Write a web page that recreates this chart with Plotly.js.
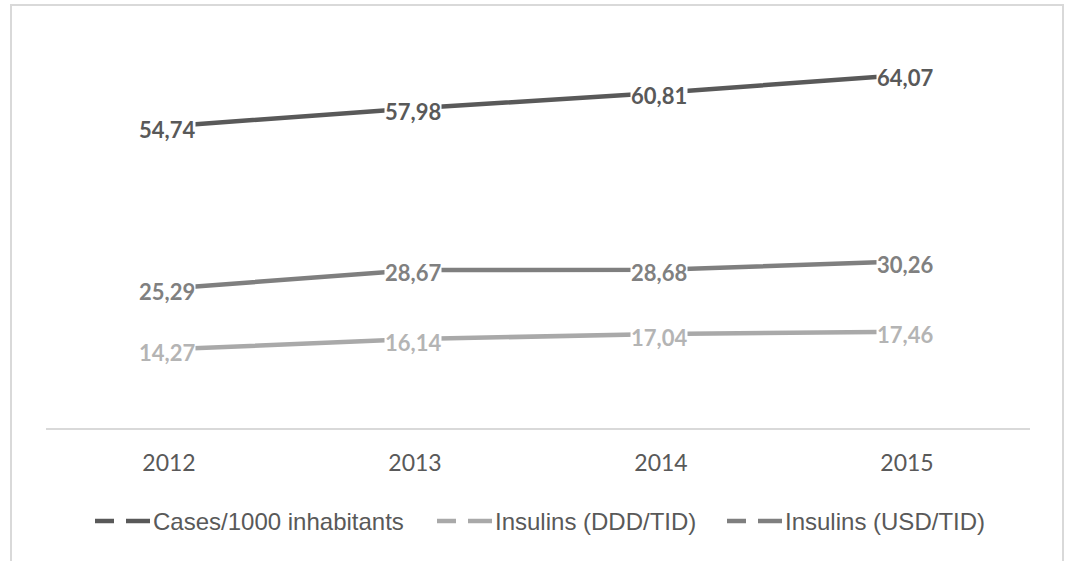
<!DOCTYPE html>
<html>
<head>
<meta charset="utf-8">
<script src="https://cdn.plot.ly/plotly-3.0.1.min.js"></script>
<style>
  html, body { margin: 0; padding: 0; background: #fff; overflow: hidden; }
  #chart { width: 1065px; height: 561px; }
</style>
</head>
<body>
<div id="chart"></div>
<script>
// Yearly series
const years = ['2012', '2013', '2014', '2015'];
const casesPer1000 = [54.74, 57.98, 60.81, 64.07];
const insulinsDDD = [14.27, 16.14, 17.04, 17.46];
const insulinsUSD = [25.29, 28.67, 28.68, 30.26];
const seriesNames = ['Cases/1000 inhabitants', 'Insulins (DDD/TID)', 'Insulins (USD/TID)'];

// Styling
const lineColors = ['#595959', '#a9a9a9', '#7f7f7f'];
const labelColors = ['#595959', '#b4b4b4', '#808080'];
const W = 1065, H = 561;
const PL = 46, PR = 1030, PT = 42, PB = 428;

const px2x = px => (px - PL) / (PR - PL);
const py2y = py => (PB - py) / (PB - PT);

const seriesValues = [casesPer1000, insulinsDDD, insulinsUSD];

const traces = seriesValues.map((vals, i) => ({
  type: 'scatter',
  mode: 'lines',
  name: seriesNames[i],
  x: years,
  y: vals,
  line: { color: lineColors[i], width: 4.5 },
  hoverinfo: 'skip',
  showlegend: false
}));

const fmt = v => v.toFixed(2).replace('.', ',');

// value labels sitting on each point, masking the line behind them
const annotations = [];
seriesValues.forEach((vals, i) => {
  vals.forEach((v, j) => {
    annotations.push({
      x: j, y: v, xref: 'x', yref: 'y',
      text: fmt(v), showarrow: false,
      xanchor: 'center', yanchor: 'middle', yshift: -3, xshift: -2,
      bgcolor: '#ffffff', borderpad: 0,
      font: { family: 'Lato, "Open Sans", sans-serif', size: 22, color: labelColors[i], weight: 'bold' }
    });
  });
});

// legend row: dashed swatch + name
const legendStarts = [95, 437, 727];
const legendY = 521;
const shapes = [];
legendStarts.forEach((x0, i) => {
  [[0, 19], [31, 55]].forEach(seg => {
    shapes.push({
      type: 'line', xref: 'paper', yref: 'paper',
      x0: px2x(x0 + seg[0]), x1: px2x(x0 + seg[1]),
      y0: py2y(legendY), y1: py2y(legendY),
      line: { color: lineColors[i], width: 4.5 }
    });
  });
  annotations.push({
    x: px2x(x0 + 56), y: py2y(legendY), xref: 'paper', yref: 'paper',
    text: seriesNames[i], showarrow: false, xanchor: 'left', yanchor: 'middle',
    font: { family: '"Liberation Sans", Arial, sans-serif', size: 24, color: '#595959' }
  });
});

// outer chart frame
shapes.push({
  type: 'rect', xref: 'paper', yref: 'paper', layer: 'below',
  x0: px2x(11), x1: px2x(1063), y0: py2y(5), y1: py2y(700),
  line: { color: '#d9d9d9', width: 2 }, fillcolor: 'rgba(0,0,0,0)'
});

const layout = {
  width: W, height: H,
  margin: { l: PL, r: W - PR, t: PT, b: H - PB, pad: 0 },
  paper_bgcolor: '#ffffff', plot_bgcolor: '#ffffff',
  showlegend: false,
  xaxis: {
    type: 'category', categoryarray: years, range: [-0.5, 3.5],
    showgrid: false, zeroline: false,
    showline: true, linecolor: '#d9d9d9', linewidth: 2,
    ticks: '', ticklabelstandoff: 13,
    tickfont: { family: 'Lato, "Open Sans", sans-serif', size: 23, color: '#595959' },
    fixedrange: true
  },
  yaxis: {
    range: [0, 70], showgrid: false, zeroline: false, showline: false,
    showticklabels: false, ticks: '', fixedrange: true
  },
  annotations: annotations,
  shapes: shapes
};

Plotly.newPlot('chart', traces, layout, { staticPlot: true, displayModeBar: false });
</script>
</body>
</html>
